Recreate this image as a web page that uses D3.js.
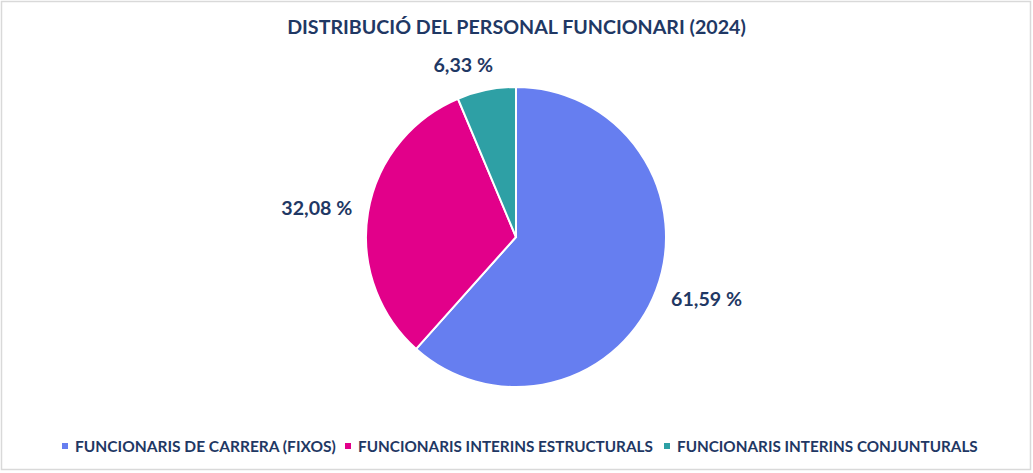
<!DOCTYPE html>
<html>
<head>
<meta charset="utf-8">
<script src="https://cdn.jsdelivr.net/npm/d3@7"></script>
<style>
  html, body { margin: 0; padding: 0; background: #fff; }
  svg { display: block; }
  text { font-family: Lato, 'Open Sans', sans-serif; font-weight: 700; fill: #1f3864; }
</style>
</head>
<body>
<div id="chart"></div>
<script>
// ━━━━━━━━━━━━━━━━━━━━━━━━━━━━━━━━━━━━━━━━━━━━━━━━━━━━━━━━━━━━━━━━━━━
// Dades ///////////////////////////////////////////////////////////////
// ━━━━━━━━━━━━━━━━━━━━━━━━━━━━━━━━━━━━━━━━━━━━━━━━━━━━━━━━━━━━━━━━━━━

const title = 'DISTRIBUCIÓ DEL PERSONAL FUNCIONARI (2024)';
const categories = [
  'FUNCIONARIS DE CARRERA (FIXOS)',
  'FUNCIONARIS INTERINS ESTRUCTURALS',
  'FUNCIONARIS INTERINS CONJUNTURALS'
];
const values = [61.59, 32.08, 6.33];
const colors = ['#667ef0', '#e2008a', '#2ea0a5'];

const width = 1033, height = 473;
const cx = 516, cy = 237, radius = 150;

// ━━━━━━━━━━━━━━━━━━━━━━━━━━━━━━━━━━━━━━━━━━━━━━━━━━━━━━━━━━━━━━━━━━━
// SVG setup ///////////////////////////////////////////////////////////
// ━━━━━━━━━━━━━━━━━━━━━━━━━━━━━━━━━━━━━━━━━━━━━━━━━━━━━━━━━━━━━━━━━━━

const svg = d3.select('#chart').append('svg')
  .attr('viewBox', [0, 0, width, height])
  .attr('width', width)
  .attr('height', height);

const frame  = svg.append('g').attr('id', 'frame');
const pie_g  = svg.append('g').attr('id', 'pie').attr('transform', `translate(${cx},${cy})`);
const labels = svg.append('g').attr('id', 'labels');
const legend = svg.append('g').attr('id', 'legend');

frame.append('rect')
  .attr('x', 1.5).attr('y', 1.5)
  .attr('width', 1029).attr('height', 468)
  .attr('fill', '#fff')
  .attr('stroke', '#d9d9d9')
  .attr('stroke-width', 1.5);

// mida de lletra perquè el text ocupi l'amplada de l'original
function fitSize(sel, target) {
  const w = sel.node().getComputedTextLength();
  const fs = parseFloat(sel.attr('font-size'));
  return fs * target / w;
}

// ━━━━━━━━━━━━━━━━━━━━━━━━━━━━━━━━━━━━━━━━━━━━━━━━━━━━━━━━━━━━━━━━━━━
// Títol ///////////////////////////////////////////////////////////////
// ━━━━━━━━━━━━━━━━━━━━━━━━━━━━━━━━━━━━━━━━━━━━━━━━━━━━━━━━━━━━━━━━━━━

const t = svg.append('text')
  .attr('x', 516.5).attr('y', 34)
  .attr('text-anchor', 'middle')
  .attr('font-size', 19)
  .text(title);
t.attr('font-size', fitSize(t, 459).toFixed(2));

// ━━━━━━━━━━━━━━━━━━━━━━━━━━━━━━━━━━━━━━━━━━━━━━━━━━━━━━━━━━━━━━━━━━━
// Pastís //////////////////////////////////////////////////////////////
// ━━━━━━━━━━━━━━━━━━━━━━━━━━━━━━━━━━━━━━━━━━━━━━━━━━━━━━━━━━━━━━━━━━━

const data = categories.map((c, i) => ({ cat: c, value: values[i], color: colors[i] }));

const pie = d3.pie().value(d => d.value).sort(null);
const arc = d3.arc().innerRadius(0).outerRadius(radius);
const arcs = pie(data);

pie_g.selectAll('path')
  .data(arcs)
  .join('path')
  .attr('d', arc)
  .attr('fill', d => d.data.color)
  .attr('stroke', '#fff')
  .attr('stroke-width', 2);

// Etiquetes fora del pastís (com l'"extrem exterior" d'Excel)
const fmt = v => v.toFixed(2).replace('.', ',') + ' %';

const lbl = labels.selectAll('text')
  .data(arcs)
  .join('text')
  .attr('text-anchor', 'middle')
  .attr('font-size', 20)
  .text(d => fmt(d.data.value));

// mateixa mida per a totes, ajustada a "32,08 %"
const lblSize = fitSize(lbl.filter((d, i) => i === 1), 71);
lbl.attr('font-size', lblSize.toFixed(2))
  .each(function (d) {
    const w = this.getComputedTextLength(), h = 18, cap = 14;
    const a = (d.startAngle + d.endAngle) / 2;
    const s = Math.sin(a), c = Math.cos(a);
    const r = radius + 16;
    const px = cx + r * s, py = cy - r * c;
    const dx = (w / 2) * Math.max(-1, Math.min(1, s * 3.4));
    const dy = -c * h / 2;
    d3.select(this).attr('x', px + dx).attr('y', py + dy + cap / 2);
  });

// ━━━━━━━━━━━━━━━━━━━━━━━━━━━━━━━━━━━━━━━━━━━━━━━━━━━━━━━━━━━━━━━━━━━
// Llegenda ////////////////////////////////////////////////////////////
// ━━━━━━━━━━━━━━━━━━━━━━━━━━━━━━━━━━━━━━━━━━━━━━━━━━━━━━━━━━━━━━━━━━━

const legendStarts  = [62, 345, 664];    // x del quadrat
const legendEnds    = [336, 653, 978];   // final del text

legend.selectAll('g')
  .data(data)
  .join('g')
  .each(function (d, i) {
    const g = d3.select(this);
    g.append('rect')
      .attr('x', legendStarts[i]).attr('y', 443)
      .attr('width', 6).attr('height', 6)
      .attr('fill', d.color);
    const x0 = legendStarts[i] + 13;
    const tx = g.append('text')
      .attr('x', x0).attr('y', 452)
      .attr('font-size', 16)
      .text(d.cat);
    tx.attr('font-size', fitSize(tx, legendEnds[i] - x0).toFixed(2));
  });
</script>
</body>
</html>
